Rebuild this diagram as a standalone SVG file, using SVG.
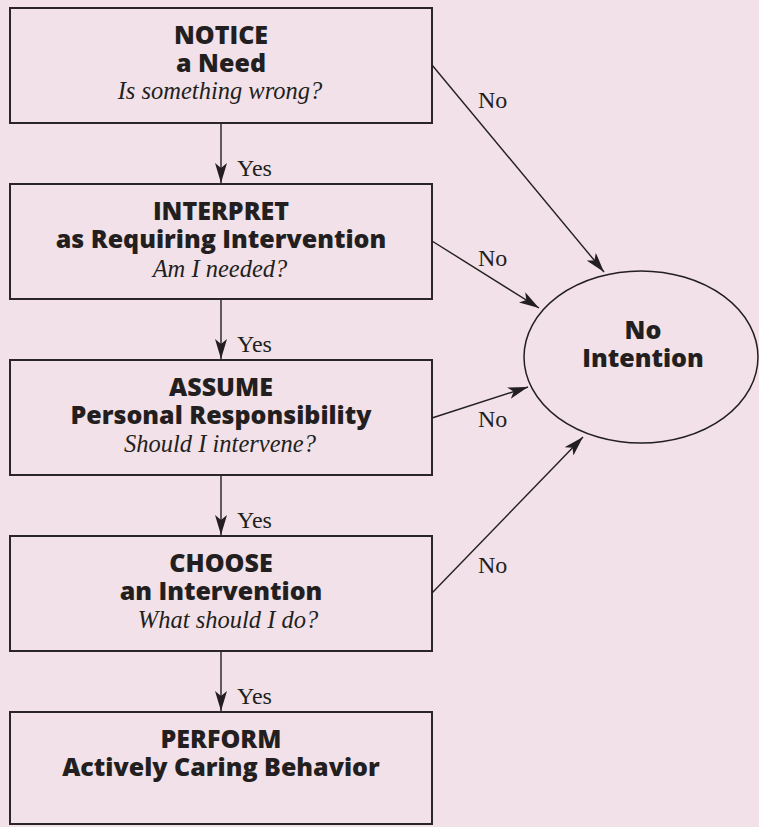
<svg xmlns="http://www.w3.org/2000/svg" width="759" height="827" viewBox="0 0 759 827">
<style>
.box{fill:none;stroke:#2b2526;stroke-width:2}
.ttl{font-family:"Open Sans","Liberation Sans",sans-serif;font-weight:800;font-size:25px;fill:#231f20;text-anchor:middle}
.q{font-family:"Liberation Serif",serif;font-style:italic;font-size:24.5px;fill:#231f20;text-anchor:middle}
.lbl{font-family:"Liberation Serif",serif;font-size:24px;fill:#231f20}
.con{stroke:#231f20;stroke-width:1.4;fill:none}
</style>
<defs>
<marker id="ah" viewBox="0 0 20 12" refX="20" refY="6" markerWidth="20" markerHeight="12" markerUnits="userSpaceOnUse" orient="auto">
<path d="M0,0 L20,6 L0,12 L5,6 z" fill="#231f20"/>
</marker>
</defs>
<rect x="0" y="0" width="759" height="827" fill="#f2e1e8"/>
<g id="n1">
<rect class="box" x="10" y="8" width="422" height="115"/>
<text class="ttl" x="221" y="44">NOTICE</text>
<text class="ttl" x="221" y="72">a Need</text>
<text class="q" x="220" y="99">Is something wrong?</text>
</g>
<g id="n2">
<rect class="box" x="10" y="184" width="422" height="115"/>
<text class="ttl" x="221" y="220">INTERPRET</text>
<text class="ttl" x="221" y="248">as Requiring Intervention</text>
<text class="q" x="220" y="277">Am I needed?</text>
</g>
<g id="n3">
<rect class="box" x="10" y="360" width="422" height="115"/>
<text class="ttl" x="221" y="396">ASSUME</text>
<text class="ttl" x="221" y="424">Personal Responsibility</text>
<text class="q" x="220" y="452">Should I intervene?</text>
</g>
<g id="n4">
<rect class="box" x="10" y="536" width="422" height="115"/>
<text class="ttl" x="221" y="572">CHOOSE</text>
<text class="ttl" x="221" y="600">an Intervention</text>
<text class="q" x="228" y="628">What should I do?</text>
</g>
<g id="n5">
<rect class="box" x="10" y="712" width="422" height="112"/>
<text class="ttl" x="221" y="748">PERFORM</text>
<text class="ttl" x="221" y="776">Actively Caring Behavior</text>
</g>
<g id="n6">
<ellipse cx="641" cy="357" rx="117" ry="86" fill="none" stroke="#231f20" stroke-width="1.5"/>
<text class="ttl" x="643" y="339">No</text>
<text class="ttl" x="643" y="367">Intention</text>
</g>
<g id="connectors">
<line class="con" x1="221" y1="124" x2="221" y2="183" marker-end="url(#ah)"/>
<line class="con" x1="221" y1="300" x2="221" y2="359" marker-end="url(#ah)"/>
<line class="con" x1="221" y1="476" x2="221" y2="535" marker-end="url(#ah)"/>
<line class="con" x1="221" y1="652" x2="221" y2="711" marker-end="url(#ah)"/>
<text class="lbl" x="237" y="176">Yes</text>
<text class="lbl" x="237" y="352">Yes</text>
<text class="lbl" x="237" y="528">Yes</text>
<text class="lbl" x="237" y="704">Yes</text>
<line class="con" x1="432" y1="65" x2="604" y2="272" marker-end="url(#ah)"/>
<line class="con" x1="432" y1="241" x2="539" y2="308" marker-end="url(#ah)"/>
<line class="con" x1="432" y1="418" x2="528" y2="387" marker-end="url(#ah)"/>
<line class="con" x1="432" y1="593" x2="583" y2="437" marker-end="url(#ah)"/>
<text class="lbl" x="478" y="108">No</text>
<text class="lbl" x="478" y="266">No</text>
<text class="lbl" x="478" y="427">No</text>
<text class="lbl" x="478" y="573">No</text>
</g>
</svg>
